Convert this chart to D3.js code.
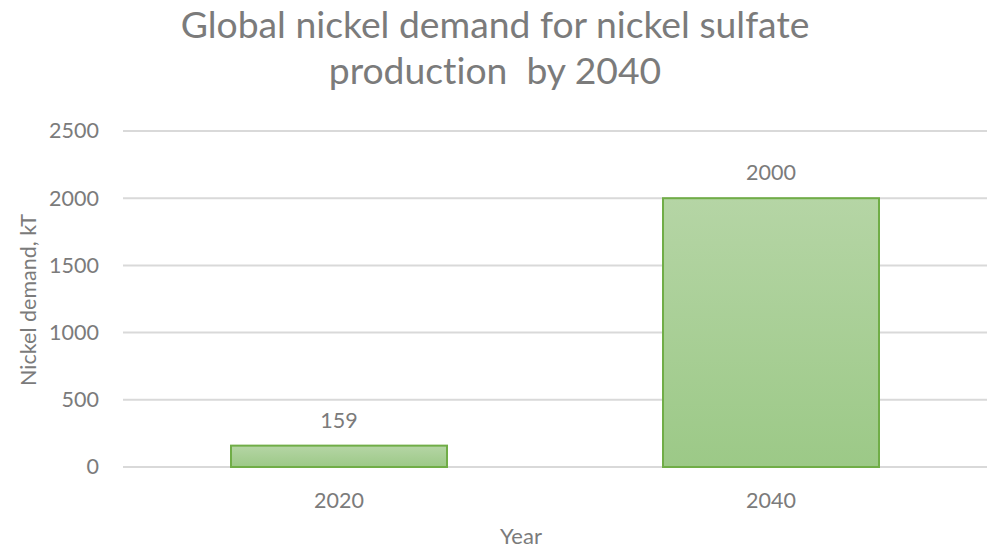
<!DOCTYPE html>
<html><head><meta charset="utf-8">
<script src="https://cdn.jsdelivr.net/npm/d3@7"></script>
<style>html,body{margin:0;padding:0;background:#fff;} text{font-variant-ligatures:none;font-feature-settings:"liga" 0;}</style>
</head><body>
<svg id="c" width="987" height="551"></svg>
<script>
const categories = ["2020", "2040"];
const values = [159, 2000];
const yTicks = [0, 500, 1000, 1500, 2000, 2500];
const titleLines = ["Global nickel demand for nickel sulfate", "production  by 2040"];
const yTitle = "Nickel demand, kT";
const xTitle = "Year";

const svg = d3.select("#c");
const font = "Lato, 'Open Sans', sans-serif";
const textColor = "#7b7b7b";
const m = {left: 123, right: 987, top: 131, bottom: 467};

const x = d3.scaleBand().domain(categories).range([m.left, m.right]).paddingInner(0.5).paddingOuter(0.25);
const y = d3.scaleLinear().domain([0, 2500]).range([m.bottom, m.top]);

const defs = svg.append("defs");
const grad = defs.append("linearGradient").attr("id", "g").attr("x1", 0).attr("y1", 0).attr("x2", 0).attr("y2", 1);
grad.append("stop").attr("offset", "0%").attr("stop-color", "#b5d5a5");
grad.append("stop").attr("offset", "100%").attr("stop-color", "#9cc987");

// gridlines
svg.append("g").selectAll("line").data(yTicks).join("line")
  .attr("x1", m.left).attr("x2", m.right)
  .attr("y1", d => y(d)).attr("y2", d => y(d))
  .attr("stroke", "#d9d9d9").attr("stroke-width", 2);

// y axis labels
const yAxis = d3.axisLeft(y).tickValues(yTicks).tickSize(0).tickPadding(0).tickFormat(d3.format("d"));
const yg = svg.append("g").attr("transform", `translate(${m.left - 24},0)`).call(yAxis);
yg.select(".domain").remove();
yg.selectAll("text").attr("font-family", font).attr("font-size", 21.5).attr("fill", textColor);

// bars
svg.append("g").selectAll("rect").data(values).join("rect")
  .attr("x", (d, i) => x(categories[i]))
  .attr("width", x.bandwidth())
  .attr("y", d => y(d))
  .attr("height", d => y(0) - y(d))
  .attr("fill", "url(#g)")
  .attr("stroke", "#70ad47").attr("stroke-width", 2);

// data labels
svg.append("g").selectAll("text").data(values).join("text")
  .attr("x", (d, i) => x(categories[i]) + x.bandwidth() / 2)
  .attr("y", d => y(d) - 26)
  .attr("text-anchor", "middle").attr("dominant-baseline", "central")
  .attr("font-family", font).attr("font-size", 21.5).attr("fill", textColor)
  .text(d => d);

// x axis labels
const xAxis = d3.axisBottom(x).tickSize(0).tickPadding(0);
const xg = svg.append("g").attr("transform", `translate(0,${m.bottom + 33})`).call(xAxis);
xg.select(".domain").remove();
xg.selectAll("text").attr("font-family", font).attr("font-size", 21.5).attr("fill", textColor)
  .attr("dy", null).attr("dominant-baseline", "central");

// axis titles
svg.append("text").attr("transform", "translate(28,300) rotate(-90)")
  .attr("text-anchor", "middle").attr("dominant-baseline", "central")
  .attr("font-family", font).attr("font-size", 21.5).attr("fill", textColor).text(yTitle);
svg.append("text").attr("x", 521).attr("y", 535)
  .attr("text-anchor", "middle").attr("dominant-baseline", "central")
  .attr("font-family", font).attr("font-size", 22).attr("fill", textColor).text(xTitle);

// title
const tl = svg.append("g").selectAll("text").data(titleLines).join("text")
  .attr("x", 495).attr("y", (d, i) => 38 + i * 46)
  .attr("text-anchor", "middle")
  .attr("font-family", font).attr("font-size", 34).attr("fill", textColor)
  .style("white-space", "pre").attr("xml:space", "preserve")
  .text(d => d);
const w0 = tl.nodes()[0].getComputedTextLength();
const fs = 34 * 629 / w0;
tl.attr("font-size", fs);
</script>
</body></html>
